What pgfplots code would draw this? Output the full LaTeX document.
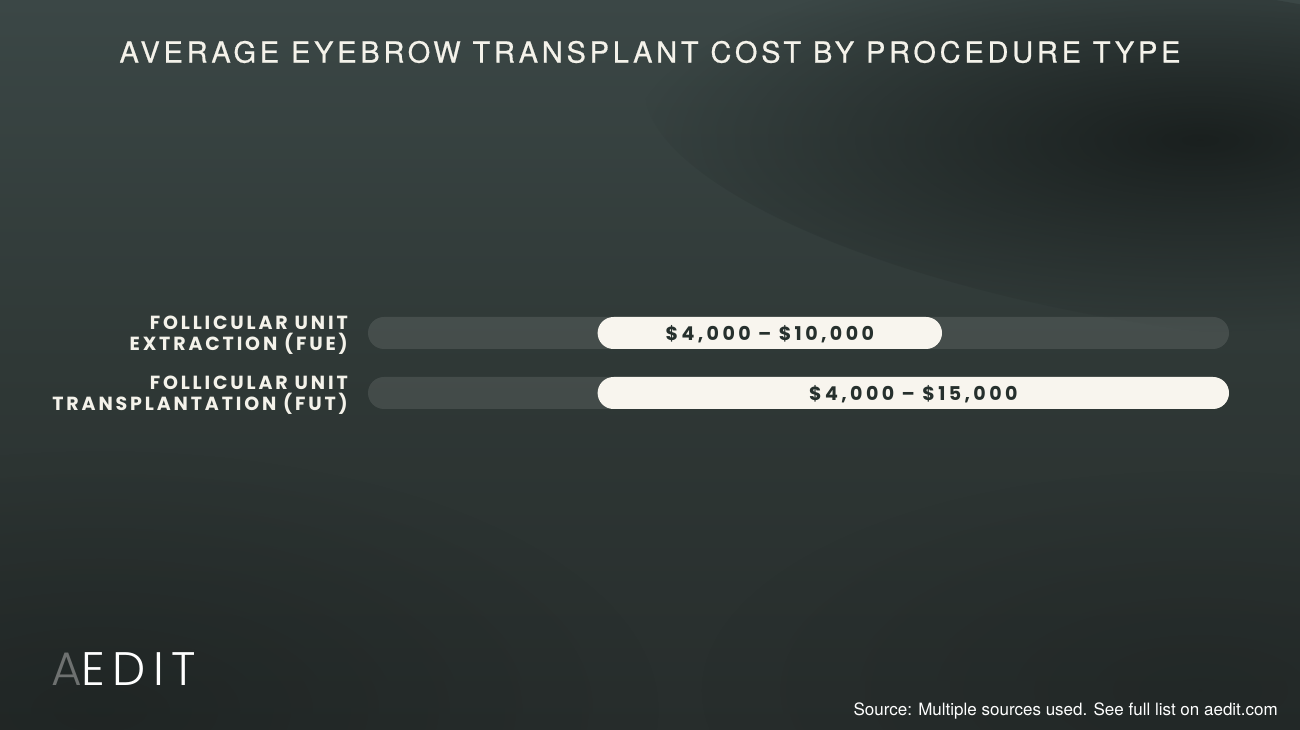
\documentclass[border=0pt]{standalone}
\usepackage{pgfplots}
\pgfplotsset{compat=1.18}
\usetikzlibrary{fadings}
\tikzfading[name=softfade, inner color=transparent!0, outer color=transparent!100]
\usepackage{fontspec}
\setmainfont{TeX Gyre Heros}
\newfontfamily\titfont{TeX Gyre Heros}[LetterSpace=13, FakeBold=0.6]
\newfontfamily\labfont{Poppins}[LetterSpace=15]
\newfontfamily\numfont{Poppins}[LetterSpace=18]
\newfontfamily\logofont{Poppins}[UprightFont=* Light, LetterSpace=16]
\definecolor{bgtop}{HTML}{3B4746}
\definecolor{bgmid}{HTML}{2F3836}
\definecolor{bgbot}{HTML}{272D2C}
\definecolor{band}{HTML}{151A19}
\definecolor{cream}{HTML}{F8F5EE}
\definecolor{txtdark}{HTML}{26302D}
\definecolor{txtlight}{HTML}{F4F2EA}
\begin{document}
\begin{tikzpicture}[x=1pt,y=1pt]
\shade[top color=bgtop, bottom color=bgbot, middle color=bgmid] (0,0) rectangle (1300,730);
\begin{scope}
\clip (0,0) rectangle (1300,730);
\fill[band, opacity=0.85, path fading=softfade, rotate around={-8:(1200,570)}] (1200,570) ellipse (560 and 170);
\fill[band, opacity=0.4, path fading=softfade] (100,20) ellipse (560 and 260);
\fill[band, opacity=0.3, path fading=softfade] (1200,40) ellipse (500 and 220);
\end{scope}
\clip (0,0) rectangle (1300,730);
\node[font=\titfont\fontsize{29}{34}\selectfont, text=txtlight] at (650,678) {AVERAGE EYEBROW TRANSPLANT COST BY PROCEDURE TYPE};
% tracks
\begin{axis}[at={(368pt,307pt)}, anchor=south west, scale only axis,
  width=861pt, height=120pt, xmin=0, xmax=15000, ymin=-0.5, ymax=1.5,
  y dir=reverse, hide x axis, axis line style={draw=none}, tick style={draw=none},
  ytick={0,1},
  yticklabels={{FOLLICULAR UNIT\\EXTRACTION (FUE)},{FOLLICULAR UNIT\\TRANSPLANTATION (FUT)}},
  yticklabel style={align=right, font=\labfont\bfseries\fontsize{19}{21.5}\selectfont, text=txtlight, inner sep=0pt, xshift=-20pt, yshift=-2pt},
  clip=false]
\addplot[xbar, bar width=32pt, draw=none, fill=white, fill opacity=0.1, rounded corners=16pt] coordinates {(15000,0) (15000,1)};
\end{axis}
% ranges
\begin{axis}[at={(368pt,307pt)}, anchor=south west, scale only axis,
  width=861pt, height=120pt, xmin=0, xmax=15000, ymin=-0.5, ymax=1.5,
  y dir=reverse, hide axis, xbar stacked, bar width=32pt, clip=false]
\addplot[draw=none, fill=none] coordinates {(4000,0) (4000,1)};
\addplot[draw=none, fill=cream, rounded corners=16pt] coordinates {(6000,0) (11000,1)};
\end{axis}
% labels
\begin{axis}[at={(368pt,307pt)}, anchor=south west, scale only axis,
  width=861pt, height=120pt, xmin=0, xmax=15000, ymin=-0.5, ymax=1.5,
  y dir=reverse, hide axis, clip=false]
\addplot[only marks, mark=none, nodes near coords, point meta=explicit symbolic,
  every node near coord/.append style={anchor=center, yshift=-1pt, font=\numfont\bfseries\fontsize{19}{20}\selectfont, text=txtdark}]
  coordinates {(7000,0) [\$4,000 – \$10,000] (9500,1) [\$4,000 – \$15,000]};
\end{axis}
\node[anchor=base west, font=\logofont\fontsize{47}{50}\selectfont, inner sep=0pt] at (51,44) {\textcolor[HTML]{6E7170}{A}\textcolor{white}{EDIT}};
\node[anchor=base east, font=\fontsize{17}{20}\selectfont, text=white, inner sep=0pt] at (1278,14) {Source: Multiple sources used. See full list on aedit.com};
\end{tikzpicture}
\end{document}
